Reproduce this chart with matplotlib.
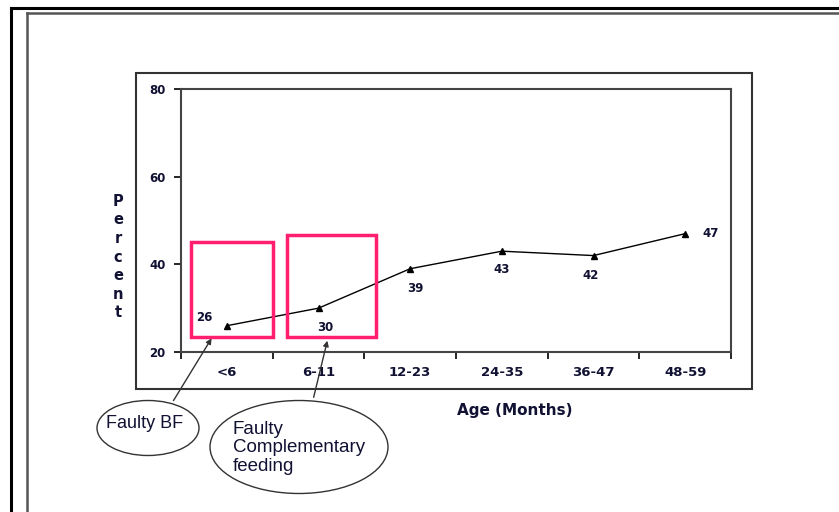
import matplotlib.pyplot as plt
from matplotlib.patches import Rectangle, Ellipse
from matplotlib.lines import Line2D

# data
age_groups = ["<6", "6-11", "12-23", "24-35", "36-47", "48-59"]
percent = [26, 30, 39, 43, 42, 47]
yticks = [20, 40, 60, 80]
# label offsets (points) for each value label
label_offsets = [(-16, 6), (5, -14), (4, -14), (0, -13), (-2, -14), (18, 0)]

W, H = 839, 512
fig = plt.figure(figsize=(W / 100, H / 100), dpi=100)


def fx(px):
    return px / W


def fy(py):
    return 1 - py / H


# outer page frame (thick black + thin grey)
fig.add_artist(Line2D([fx(11), fx(11)], [0, fy(8)], color="black", lw=2.2))
fig.add_artist(Line2D([fx(11), 1], [fy(8), fy(8)], color="black", lw=2.2))
fig.add_artist(Line2D([fx(27), fx(27)], [0, fy(13)], color="#555555", lw=1.8))
fig.add_artist(Line2D([fx(27), 1], [fy(13), fy(13)], color="#555555", lw=1.8))

# chart area box
fig.add_artist(Rectangle((fx(136), fy(389)), fx(752 - 136), (389 - 73) / H,
                         fill=False, ec="#333333", lw=1.5))

ax = fig.add_axes([fx(181), fy(352), fx(731 - 181), (352 - 89) / H])
x = list(range(len(age_groups)))
ax.plot(x, percent, color="black", lw=1, marker="^", ms=5)
ax.set_xlim(-0.5, len(age_groups) - 0.5)
ax.set_ylim(20, 80)
ax.set_yticks(yticks)
ax.set_yticklabels([str(v) for v in yticks], fontsize=8.5, fontweight="bold",
                   color="#111133")
ax.set_xticks([i + 0.5 for i in range(-1, len(age_groups))])
ax.set_xticklabels([])
ax.set_xticks(x, minor=True)
ax.set_xticklabels(age_groups, minor=True, fontsize=9.5, fontweight="bold",
                   color="#111133")
ax.tick_params(axis="x", which="minor", length=0, pad=10)
ax.tick_params(axis="x", which="major", length=5, width=1.2, direction="out")
ax.tick_params(axis="y", length=5, width=1.2, direction="out", pad=6)
for s in ax.spines.values():
    s.set_color("#444444")
    s.set_linewidth(1.5)

for xi, v, off in zip(x, percent, label_offsets):
    ax.annotate(str(v), (xi, v), xytext=off, textcoords="offset points",
                ha="center", va="center", fontsize=8.5, fontweight="bold",
                color="#111133")

# axis titles
fig.text(fx(118), fy(257), "\n".join("Percent"), ha="center", va="center",
         fontsize=10.5, fontweight="bold", linespacing=1.3, color="#111133")
fig.text(fx(515), fy(410), "Age (Months)", ha="center", va="center",
         fontsize=11, fontweight="bold", color="#111133")

# pink highlight boxes
pink = "#FF1F6E"
fig.add_artist(Rectangle((fx(191), fy(337)), fx(273 - 191), (337 - 242) / H,
                         fill=False, ec=pink, lw=2.5))
fig.add_artist(Rectangle((fx(287), fy(337)), fx(376 - 287), (337 - 235) / H,
                         fill=False, ec=pink, lw=2.5))

# callout ellipses
fig.add_artist(Ellipse((fx(148), fy(428)), fx(102), 55 / H,
                       fill=False, ec="#333333", lw=1))
fig.add_artist(Ellipse((fx(299), fy(447)), fx(178), 93 / H,
                       fill=False, ec="#333333", lw=1))
fig.text(fx(106), fy(424), "Faulty BF", ha="left", va="center",
         fontsize=13, family="Liberation Sans", color="#111133")
fig.text(fx(233), fy(448), "Faulty\nComplementary\nfeeding", ha="left",
         va="center", fontsize=13.5, family="Liberation Sans",
         linespacing=1.12, color="#111133")

# arrows
fig.add_artist(plt.Annotation("", xy=(fx(213), fy(336)), xytext=(fx(172), fy(403)),
                              xycoords="figure fraction",
                              arrowprops=dict(arrowstyle="-|>", color="#333333",
                                              lw=1, mutation_scale=8)))
fig.add_artist(plt.Annotation("", xy=(fx(328), fy(338)), xytext=(fx(313), fy(400)),
                              xycoords="figure fraction",
                              arrowprops=dict(arrowstyle="-|>", color="#333333",
                                              lw=1, mutation_scale=8)))

fig.savefig("out.png", dpi=100)
